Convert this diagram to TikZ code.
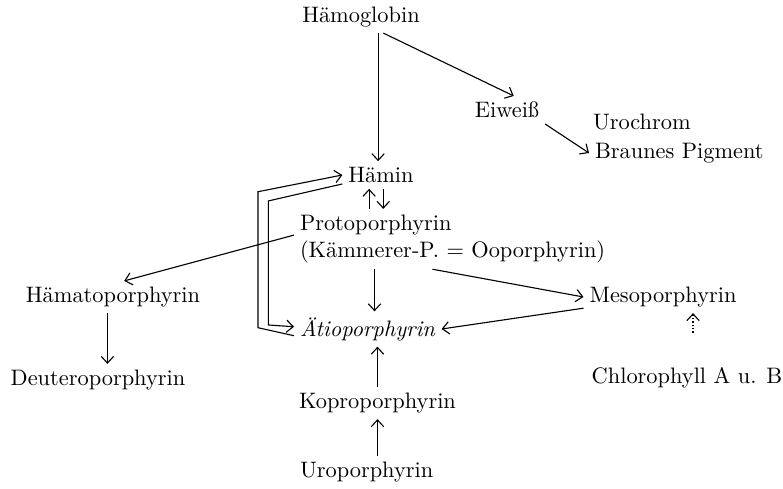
\documentclass[tikz,border=0pt]{standalone}
\usepackage{tikz}
\usetikzlibrary{arrows.meta}

\begin{document}
\begin{tikzpicture}[
    x=0.447pt, y=-0.447pt,
    stoff/.style={inner sep=2.5pt},
    links/.style={stoff, anchor=west},
    arr/.style={-{Straight Barb[length=3pt,width=5.5pt]}, line width=0.5pt},
]
    \useasboundingbox (0,0) rectangle (783,489);
    \node[stoff] (hgb) at (361,17) {Hämoglobin};
    \node[stoff] (eiw) at (507,110) {Eiweiß};
    \node[links] (urochr) at (587,122) {Urochrom};
    \node[links] (braun) at (589,153) {Braunes Pigment};
    \node[stoff] (hmn) at (381,175) {Hämin};
    \node[links] (proto) at (294,225) {Protoporphyrin};
    \node[links] (kaem) at (294,252) {(Kämmerer-P. $=$ Ooporphyrin)};
    \node[stoff] (hmato) at (113,297) {Hämatoporphyrin};
    \node[stoff] (deut) at (98,380) {Deuteroporphyrin};
    \node[links] (aetio) at (294,329) {\textit{Ätioporphyrin}};
    \node[stoff] (meso) at (663,297) {Mesoporphyrin};
    \node[stoff] (chl) at (687,378) {Chlorophyll A u. B};
    \node[links] (kopro) at (293,403) {Koproporphyrin};
    \node[links] (uro) at (294,472) {Uroporphyrin};

    \draw[arr] ([xshift=-1.3pt]hgb.south -| hmn.north) -- ([xshift=-1.3pt]hmn.north);
    \draw[arr] ([xshift=10pt]hgb.south) -- ([xshift=3pt]eiw.north);
    \draw[arr] (eiw.south east) -- (braun.west);
    \draw[arr] ([xshift=-3pt]proto.north) -- ([xshift=-3pt]proto.north |- hmn.south);
    \draw[arr] ([xshift=1pt]hmn.south) -- ([xshift=1pt]hmn.south |- proto.north);
    % Haemin <-> Aetioporphyrin, doppelt
    \draw[arr] ([yshift=-3pt]aetio.west) -- ++(-36,-8) -- ++(0,-136) -- (hmn.west);
    \draw[arr] ([yshift=-4pt]hmn.west) -- ++(-74,17) -- ++(0,124) -- ([yshift=1pt]aetio.west);
    \draw[arr] ([yshift=-4.5pt]proto.west) -- ([xshift=5pt]hmato.north);
    \draw[arr] ([xshift=-2.5pt]hmato.south) -- ([xshift=-2.5pt]hmato.south |- deut.north);
    \draw[arr] ([xshift=3pt]aetio.north |- kaem.south) -- ([xshift=3pt]aetio.north);
    \draw[arr] ([xshift=-9pt]kaem.south) -- (meso.west);
    \draw[arr] ([yshift=-5pt]meso.west) -- (aetio.east);
    \draw[arr, densely dotted, shorten <=13pt] ([xshift=2.7pt]chl.north) -- ([xshift=2.7pt]chl.north |- meso.south);
    \draw[arr] (kopro.north) -- (kopro.north |- aetio.south);
    \draw[arr] (uro.north -| kopro.north) -- (kopro.south);
\end{tikzpicture}
\end{document}
